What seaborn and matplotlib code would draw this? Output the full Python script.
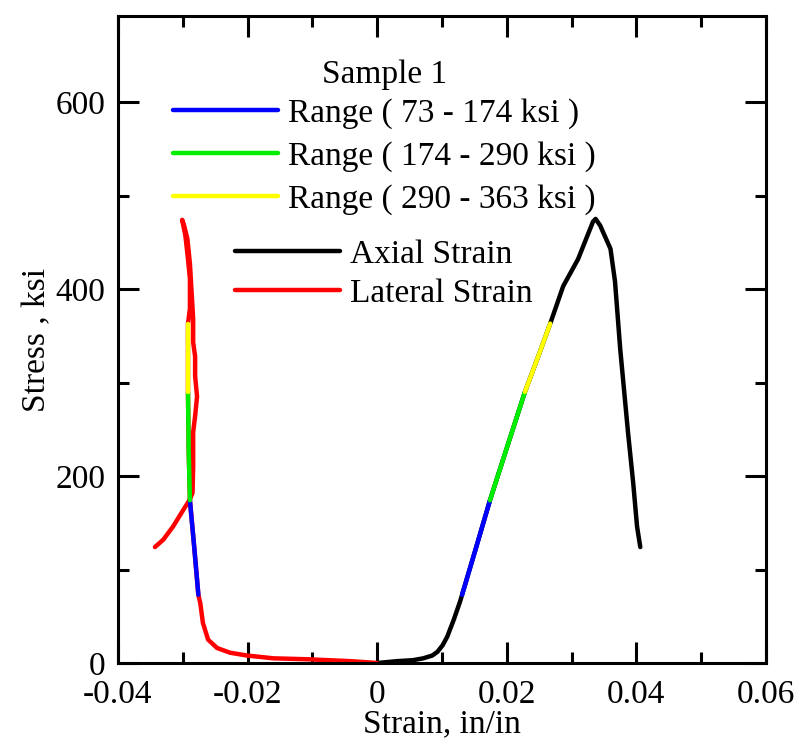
import numpy as np
import matplotlib
matplotlib.use('Agg')
import matplotlib.pyplot as plt
import seaborn as sns
from matplotlib.lines import Line2D
from matplotlib.ticker import MultipleLocator, FuncFormatter

# ============================================================
# DATA
# ============================================================

axial_strain = [0.0, 0.0031, 0.0055, 0.0071, 0.0085, 0.0093, 0.0101, 0.0108, 0.0118,
                0.0128, 0.0131, 0.0152, 0.0174,
                0.0200, 0.0228, 0.0248, 0.0267, 0.0287, 0.0310, 0.0333, 0.0337,
                0.0344, 0.0360, 0.0367, 0.0375, 0.0387, 0.0395, 0.0401, 0.0406]
axial_stress = [0, 2, 3, 5, 8, 12, 19, 28, 46,
                66, 73, 122, 174,
                230, 290, 327, 363, 403, 432, 472, 475,
                468, 443, 408, 336, 247, 193, 146, 124]

lateral_strain = [0.0, -0.0042, -0.0108, -0.0160, -0.0201, -0.0227, -0.0247, -0.0261,
                  -0.0269, -0.0273, -0.0276, -0.0282, -0.0289, -0.0291, -0.0292, -0.0292,
                  -0.0289, -0.0289, -0.0292, -0.0296, -0.0301,
                  -0.0298, -0.0293, -0.0289, -0.0284, -0.0284, -0.0281, -0.0281, -0.0278,
                  -0.0281, -0.0284, -0.0284, -0.0285, -0.0289, -0.0299, -0.0315, -0.0330,
                  -0.0343]
lateral_stress = [0, 2, 4, 5, 8, 11, 16, 25,
                  43, 64, 73, 121, 174, 230, 290, 363,
                  379, 411, 432, 457, 474,
                  468, 454, 427, 368, 343, 328, 307, 285,
                  264, 247, 210, 182, 175, 164, 146, 132,
                  124]

range_bounds = [73, 174, 290, 363]
range_labels = ['Range ( 73 - 174 ksi )', 'Range ( 174 - 290 ksi )', 'Range ( 290 - 363 ksi )']
range_colors = ['#0000FF', '#00EE00', '#FFFF00']

# ============================================================
# STYLE
# ============================================================

sns.set_style('ticks')
plt.rcParams['font.family'] = ['Liberation Serif', 'DejaVu Serif']
plt.rcParams['text.color'] = 'black'
plt.rcParams['axes.labelcolor'] = 'black'

FS = 24
LW = 3.2

fig = plt.figure(figsize=(8.01, 7.47), dpi=100)
ax = fig.add_axes([118 / 801, (747 - 663) / 747, 648 / 801, 647 / 747])

# main curves
sns.lineplot(x=axial_strain, y=axial_stress, sort=False, estimator=None,
             color='black', linewidth=LW, ax=ax)
sns.lineplot(x=lateral_strain, y=lateral_stress, sort=False, estimator=None,
             color='#FF0000', linewidth=LW, ax=ax)

# coloured ranges on the loading branch of each curve
for strain, stress in [(axial_strain, axial_stress), (lateral_strain, lateral_stress)]:
    stress = np.array(stress)
    strain = np.array(strain)
    peak = int(np.argmax(stress))
    s_load, e_load = stress[:peak + 1], strain[:peak + 1]
    for i, c in enumerate(range_colors):
        m = (s_load >= range_bounds[i]) & (s_load <= range_bounds[i + 1])
        sns.lineplot(x=e_load[m], y=s_load[m], sort=False, estimator=None,
                     color=c, linewidth=LW, ax=ax)

# ============================================================
# AXES
# ============================================================

ax.set_xlim(-0.04, 0.06)
ax.set_ylim(0, 692)
ax.xaxis.set_major_locator(MultipleLocator(0.02))
ax.xaxis.set_minor_locator(MultipleLocator(0.01))
ax.yaxis.set_major_locator(MultipleLocator(200))
ax.yaxis.set_minor_locator(MultipleLocator(100))
ax.xaxis.set_major_formatter(FuncFormatter(lambda v, p: '%g' % round(v, 4)))
ax.tick_params(which='both', direction='in', top=True, right=True, width=2.2,
               labelsize=FS, colors='black')
ax.tick_params(axis='x', pad=12)
ax.tick_params(axis='y', pad=9)
ax.tick_params(which='major', length=15)
ax.tick_params(which='minor', length=8)
for sp in ax.spines.values():
    sp.set_linewidth(2.2)
    sp.set_color('black')

ax.set_xlabel('Strain, in/in', fontsize=FS, labelpad=-1, color='black')
ax.set_ylabel('Stress , ksi', fontsize=FS, labelpad=2, color='black')

# ============================================================
# LEGENDS
# ============================================================

h1 = [Line2D([], [], color=c, linewidth=LW) for c in range_colors]
leg1 = ax.legend(h1, range_labels, title='Sample 1', loc='upper left',
                 bbox_to_anchor=(0.085, 0.932), frameon=False, fontsize=FS,
                 title_fontsize=FS, handlelength=3.15, handletextpad=0.3,
                 labelspacing=0.36, borderpad=0, borderaxespad=0)
leg1._legend_box.sep = 5.8   # tighter gap under the title
ax.add_artist(leg1)

h2 = [Line2D([], [], color='black', linewidth=LW),
      Line2D([], [], color='#FF0000', linewidth=LW)]
ax.legend(h2, ['Axial Strain', 'Lateral Strain'], loc='upper left',
          bbox_to_anchor=(0.18, 0.655), frameon=False, fontsize=FS,
          handlelength=3.15, handletextpad=0.3, labelspacing=0.25,
          borderpad=0, borderaxespad=0)

fig.savefig('out.png', dpi=100)
